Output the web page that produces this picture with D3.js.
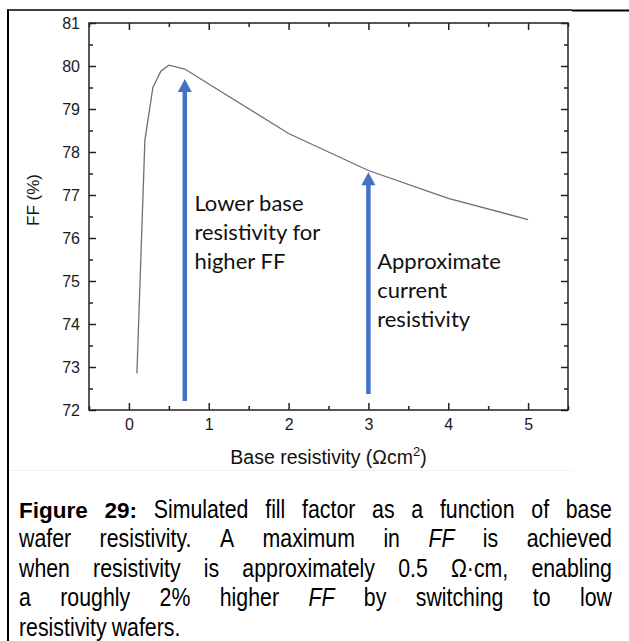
<!DOCTYPE html>
<html>
<head>
<meta charset="utf-8">
<script src="https://cdn.jsdelivr.net/npm/d3@7"></script>
<style>
  html, body { margin: 0; padding: 0; background: #fff; }
  svg { display: block; }
</style>
</head>
<body>
<svg id="chart" width="629" height="641"></svg>
<script>
// ---- data ----
const resistivity = [0.1, 0.2, 0.3, 0.4, 0.5, 0.7, 1, 2, 3, 4, 5];
const ffValues    = [72.85, 78.27, 79.5, 79.88, 80.02, 79.93, 79.58, 78.43, 77.57, 76.92, 76.43];
const xTickValues = [0, 1, 2, 3, 4, 5];
const xMinorTicks = [-0.5, 0.5, 1.5, 2.5, 3.5, 4.5, 5.5];
const yTickValues = [72, 73, 74, 75, 76, 77, 78, 79, 80, 81];
const yMinorTicks = [72.5, 73.5, 74.5, 75.5, 76.5, 77.5, 78.5, 79.5, 80.5];
const arrowX    = [0.7, 3];
const arrowBase = [72.21, 72.37];
const arrowTip  = [79.70, 77.53];
const note1Lines = ["Lower base", "resistivity for", "higher FF"];
const note2Lines = ["Approximate", "current", "resistivity"];
const noteAnchorX = [0.82, 3.11];
const noteAnchorY = [76.63, 75.28];
const xTitle = "Base resistivity (\u03A9cm";
const yTitle = "FF (%)";
const captionLines = [
  ["!Figure", "!29:", "Simulated", "fill", "factor", "as", "a", "function", "of", "base"],
  ["wafer", "resistivity.", "A", "maximum", "in", "*FF", "is", "achieved"],
  ["when", "resistivity", "is", "approximately", "0.5", "\u03A9\u00B7cm,", "enabling"],
  ["a", "roughly", "2%", "higher", "*FF", "by", "switching", "to", "low"],
  ["resistivity", "wafers."]
];

// ---- setup ----
const svg = d3.select("#chart");
const x = d3.scaleLinear().domain([-0.5, 5.5]).range([89, 568]);
const y = d3.scaleLinear().domain([72, 81]).range([410, 23]);
const axisColor = "#222";
const tickFont = "'Liberation Sans', Arial, sans-serif";

// outer frame of the figure
svg.append("line").attr("x1", 7).attr("x2", 572).attr("y1", 10).attr("y2", 10)
  .attr("stroke", "#000").attr("stroke-width", 1.5);
svg.append("line").attr("x1", 572).attr("x2", 629).attr("y1", 10.5).attr("y2", 10.5)
  .attr("stroke", "#000").attr("stroke-width", 2.2);
svg.append("line").attr("x1", 8).attr("x2", 8).attr("y1", 9.5).attr("y2", 641)
  .attr("stroke", "#000").attr("stroke-width", 2);
svg.append("line").attr("x1", 9).attr("x2", 572).attr("y1", 470.5).attr("y2", 470.5)
  .attr("stroke", "#f2f2f2").attr("stroke-width", 1);

// axes
function styleAxis(g, labels) {
  g.select(".domain").remove();
  g.attr("font-size", 16).attr("font-family", tickFont);
  g.selectAll(".tick line").attr("stroke", axisColor).attr("stroke-width", 1.5);
  if (!labels) g.selectAll(".tick text").remove();
  else g.selectAll(".tick text").attr("fill", "#1a1a1a")
        .attr("font-size", 16)
        .style("font-family", tickFont).style("font-size", "16px");
}
svg.append("g").attr("transform", `translate(0,${y(72)})`)
  .call(d3.axisBottom(x).tickValues(xTickValues).tickSizeInner(-7).tickSizeOuter(0).tickPadding(9).tickFormat(d3.format("d")))
  .call(g => styleAxis(g, true));
svg.append("g").attr("transform", `translate(0,${y(72)})`)
  .call(d3.axisBottom(x).tickValues(xMinorTicks).tickSizeInner(-4).tickSizeOuter(0))
  .call(g => styleAxis(g, false));
svg.append("g").attr("transform", `translate(0,${y(81)})`)
  .call(d3.axisTop(x).tickValues(xTickValues).tickSizeInner(-7).tickSizeOuter(0))
  .call(g => styleAxis(g, false));
svg.append("g").attr("transform", `translate(0,${y(81)})`)
  .call(d3.axisTop(x).tickValues(xMinorTicks).tickSizeInner(-4).tickSizeOuter(0))
  .call(g => styleAxis(g, false));
svg.append("g").attr("transform", `translate(${x(-0.5)},0)`)
  .call(d3.axisLeft(y).tickValues(yTickValues).tickSizeInner(-7).tickSizeOuter(0).tickPadding(9).tickFormat(d3.format("d")))
  .call(g => styleAxis(g, true));
svg.append("g").attr("transform", `translate(${x(-0.5)},0)`)
  .call(d3.axisLeft(y).tickValues(yMinorTicks).tickSizeInner(-4).tickSizeOuter(0))
  .call(g => styleAxis(g, false));
svg.append("g").attr("transform", `translate(${x(5.5)},0)`)
  .call(d3.axisRight(y).tickValues(yTickValues).tickSizeInner(-7).tickSizeOuter(0))
  .call(g => styleAxis(g, false));
svg.append("g").attr("transform", `translate(${x(5.5)},0)`)
  .call(d3.axisRight(y).tickValues(yMinorTicks).tickSizeInner(-4).tickSizeOuter(0))
  .call(g => styleAxis(g, false));

// plot frame
svg.append("rect")
  .attr("x", x(-0.5)).attr("y", y(81))
  .attr("width", x(5.5) - x(-0.5)).attr("height", y(72) - y(81))
  .attr("fill", "none").attr("stroke", axisColor).attr("stroke-width", 1.5);

// curve
const pts = resistivity.map((r, i) => [r, ffValues[i]]);
svg.append("path").datum(pts)
  .attr("d", d3.line().x(d => x(d[0])).y(d => y(d[1])))
  .attr("fill", "none").attr("stroke", "#6f6f6f").attr("stroke-width", 1.3);

// arrows
const arrowColor = "#4472C4";
const headH = 13, headW = 14;
arrowX.forEach((ax, i) => {
  const px = x(ax), y0 = y(arrowBase[i]), y1 = y(arrowTip[i]);
  svg.append("line").attr("x1", px).attr("x2", px).attr("y1", y0).attr("y2", y1 + headH - 1)
    .attr("stroke", arrowColor).attr("stroke-width", 4.5);
  svg.append("path")
    .attr("d", `M${px},${y1} L${px + headW / 2},${y1 + headH} L${px - headW / 2},${y1 + headH} Z`)
    .attr("fill", arrowColor);
});

// annotation notes
const noteFont = "Lato, 'Open Sans', sans-serif";
[note1Lines, note2Lines].forEach((lines, i) => {
  const t = svg.append("text")
    .attr("x", x(noteAnchorX[i])).attr("y", y(noteAnchorY[i]))
    .style("font-family", noteFont).style("font-size", "22px").attr("fill", "#111");
  lines.forEach((ln, j) => {
    t.append("tspan").attr("x", x(noteAnchorX[i])).attr("dy", j === 0 ? 0 : 29).text(ln);
  });
});

// axis titles
const xt = svg.append("text").attr("x", (x(-0.5) + x(5.5)) / 2).attr("y", 464)
  .attr("text-anchor", "middle").attr("fill", "#111")
  .style("font-family", tickFont).style("font-size", "19.5px");
xt.append("tspan").text(xTitle);
xt.append("tspan").attr("dy", -8).style("font-size", "13px").text("2");
xt.append("tspan").attr("dy", 8).text(")");

svg.append("text")
  .attr("transform", "translate(39,200) rotate(-90)")
  .attr("text-anchor", "middle").attr("fill", "#111")
  .style("font-family", tickFont).style("font-size", "17px")
  .text(yTitle);

// caption (justified)
function fontAvailable(name) {
  const c = document.createElement("canvas").getContext("2d");
  const s = "Simulated fill factor";
  c.font = "23px monospace"; const a = c.measureText(s).width;
  c.font = `23px '${name}', monospace`; const b = c.measureText(s).width;
  return Math.abs(a - b) > 0.5;
}
const narrowOK = fontAvailable("Liberation Sans Narrow");
const capLeft = 19, capRight = 612, capBase0 = 518, capStep = 29.5;
captionLines.forEach((words, li) => {
  const yy = capBase0 + li * capStep;
  const nodes = words.map(w => {
    let bold = false, ital = false, txt = w;
    if (w[0] === "!") { bold = true; txt = w.slice(1); }
    if (w[0] === "*") { ital = true; txt = w.slice(1); }
    const el = svg.append("text").attr("y", yy).attr("fill", "#000")
      .style("font-size", bold ? "22.5px" : "26px")
      .style("font-family", bold ? "'Liberation Sans', Arial, sans-serif"
        : (narrowOK ? "'Liberation Sans Narrow', 'Arial Narrow', sans-serif" : "'Liberation Sans', Arial, sans-serif"))
      .style("font-weight", bold ? "bold" : "normal")
      .style("font-style", ital ? "italic" : "normal")
      .text(txt);
    if (!bold && !narrowOK) el.attr("data-squeeze", "1");
    return el;
  });
  const widths = nodes.map(n => {
    let w = n.node().getComputedTextLength();
    if (n.attr("data-squeeze")) w *= 0.82;
    return w;
  });
  const total = d3.sum(widths);
  const last = li === captionLines.length - 1;
  const gap = last ? 5 : (capRight - capLeft - total) / (words.length - 1);
  let cx = capLeft;
  nodes.forEach((n, k) => {
    if (n.attr("data-squeeze")) n.attr("transform", `translate(${cx},0) scale(0.82,1)`).attr("x", 0);
    else n.attr("x", cx);
    cx += widths[k] + gap;
  });
});
</script>
</body>
</html>
